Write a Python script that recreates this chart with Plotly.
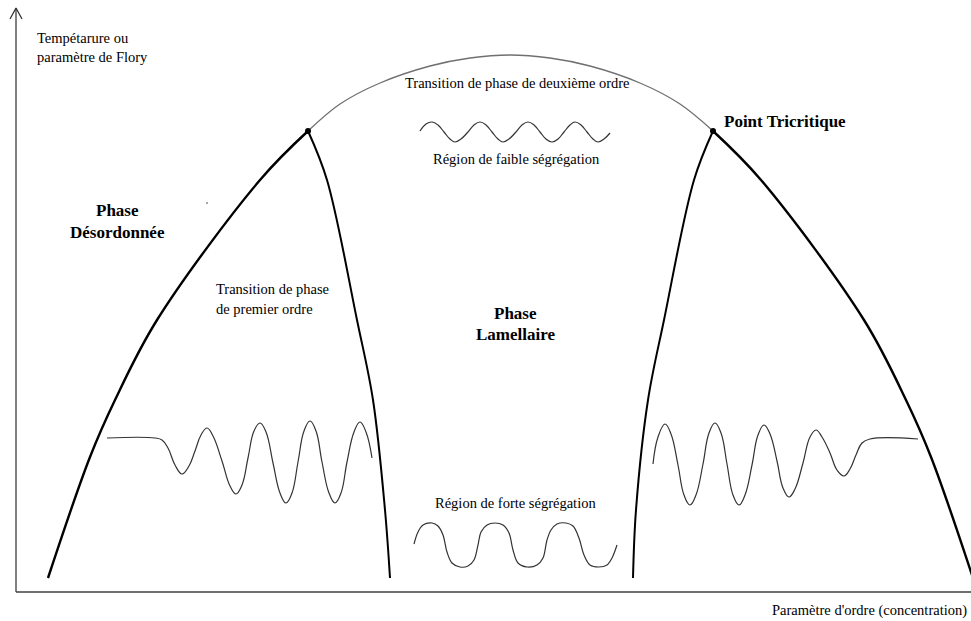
import plotly.graph_objects as go

# ---- data (diagram units: x to the right, y downward) ----
axis_y_x = [16, 16]
axis_y_y = [592, 8]
arrow_x = [10, 16, 22]
arrow_y = [19, 8, 19]
axis_x_x = [16, 971]
axis_x_y = [592, 592]

left_outer_x = [48, 90, 115, 157, 260, 308]
left_outer_y = [578, 457, 400, 320, 180, 131]
left_inner_x = [308, 327, 357, 373, 385, 390]
left_inner_y = [131, 180, 320, 400, 510, 578]
right_inner_x = [713, 694, 664, 648, 636, 633]
right_inner_y = [131, 180, 320, 400, 510, 578]
right_outer_x = [713, 761, 864, 906, 931, 973]
right_outer_y = [131, 180, 320, 400, 457, 578]

arc_x = [308, 340, 380, 430, 470, 510, 550, 590, 640, 680, 713]
arc_y = [131, 104, 83, 66, 58, 55, 58, 66, 83, 104, 131]

tricritical_x = [308, 713]
tricritical_y = [131, 131]

left_wave_x = [107, 155, 162, 168, 175, 182, 189, 195, 201, 207, 213, 222, 230,
               236, 242, 248, 254, 260, 266, 273, 280, 286, 292, 298, 304, 310,
               316, 322, 329, 335, 341, 347, 354, 360, 366, 372]
left_wave_y = [438, 438, 440, 448, 465, 474, 466, 451, 435, 428, 436, 461, 486,
               494, 485, 458, 431, 423, 432, 463, 493, 503, 493, 462, 431, 421,
               431, 462, 493, 503, 493, 462, 432, 422, 432, 458]

right_wave_x = [653, 658, 665, 671, 678, 684, 690, 696, 703, 709, 715, 721, 727,
                733, 739, 745, 752, 758, 764, 770, 777, 783, 789, 795, 803, 810,
                816, 822, 830, 837, 844, 850, 856, 862, 870, 918]
right_wave_y = [464, 437, 424, 434, 465, 495, 505, 495, 464, 433, 423, 433, 464,
                495, 505, 495, 465, 435, 425, 434, 461, 488, 497, 489, 463, 437,
                430, 437, 453, 470, 476, 469, 455, 443, 439, 439]

weak_wave_x = [420, 426, 432, 438, 444, 450, 455, 461, 468, 474, 480, 486, 492,
               498, 503, 509, 516, 522, 528, 534, 540, 546, 552, 558, 564, 570,
               575, 581, 587, 593, 598, 604, 610]
weak_wave_y = [131, 124, 122, 125, 132, 139, 142, 139, 132, 125, 122, 125, 132,
               139, 142, 139, 132, 125, 122, 125, 132, 139, 142, 139, 132, 125,
               122, 125, 132, 139, 142, 139, 133]

strong_wave_x = [414, 418, 423, 432, 438, 443, 447, 452, 460, 468, 474, 478, 481,
                 487, 495, 503, 509, 513, 518, 527, 537, 543, 547, 551, 557, 566,
                 573, 579, 584, 590, 599, 607, 612, 617]
strong_wave_y = [544, 532, 525, 523, 526, 535, 552, 563, 567, 566, 560, 545, 532,
                 525, 523, 525, 533, 550, 563, 567, 565, 558, 540, 530, 524, 523,
                 526, 538, 555, 565, 567, 565, 558, 545]

stray_x = [207]
stray_y = [203]

labels = [
    # text, x, y, xanchor, size, bold
    ("Tempétarure ou", 35, 38, "left", 14.5, False),
    ("paramètre de Flory", 35, 57, "left", 14.5, False),
    ("Transition de phase de deuxième ordre", 517, 83, "center", 14.5, False),
    ("Région de faible ségrégation", 516, 159, "center", 14.5, False),
    ("Point Tricritique", 722, 121, "left", 17, True),
    ("Phase", 117, 210, "center", 17, True),
    ("Désordonnée", 117, 232, "center", 17, True),
    ("Transition de phase", 214, 289, "left", 14.5, False),
    ("de premier ordre", 214, 309, "left", 14.5, False),
    ("Phase", 515, 313, "center", 17, True),
    ("Lamellaire", 515, 334, "center", 17, True),
    ("Région de forte ségrégation", 515, 503, "center", 14.5, False),
    ("Paramètre d'ordre (concentration)", 969, 610, "right", 14.5, False),
]

FONT = "Liberation Serif"

fig = go.Figure()


def line(xs, ys, color, width, shape="linear", smoothing=1.0):
    fig.add_trace(go.Scatter(x=xs, y=ys, mode="lines",
                             line=dict(color=color, width=width, shape=shape,
                                       smoothing=smoothing),
                             hoverinfo="skip"))


line(axis_y_x, axis_y_y, "#808080", 2)
line(arrow_x, arrow_y, "#333333", 1.3)
line(axis_x_x, axis_x_y, "#404040", 1.5)

line(left_outer_x, left_outer_y, "#000000", 2.4, "spline")
line(left_inner_x, left_inner_y, "#000000", 2.0, "spline")
line(right_inner_x, right_inner_y, "#000000", 2.0, "spline")
line(right_outer_x, right_outer_y, "#000000", 2.4, "spline")
line(arc_x, arc_y, "#707070", 1.3, "spline")

line(left_wave_x, left_wave_y, "#333333", 1.2, "spline", 1.2)
line(right_wave_x, right_wave_y, "#333333", 1.2, "spline", 1.2)
line(weak_wave_x, weak_wave_y, "#333333", 1.2, "spline", 1.2)
line(strong_wave_x, strong_wave_y, "#333333", 1.2, "spline", 1.0)

fig.add_trace(go.Scatter(x=tricritical_x, y=tricritical_y, mode="markers",
                         marker=dict(color="#000000", size=6), hoverinfo="skip"))
fig.add_trace(go.Scatter(x=stray_x, y=stray_y, mode="markers",
                         marker=dict(color="#888888", size=2), hoverinfo="skip"))

for text, x, y, xa, size, bold in labels:
    fig.add_annotation(x=x, y=y, xref="x", yref="y", text=f"<b>{text}</b>" if bold else text,
                       showarrow=False, xanchor=xa, yanchor="middle",
                       font=dict(family=FONT, size=size, color="#000000"))

fig.update_layout(
    width=971, height=621,
    margin=dict(l=0, r=0, t=0, b=0),
    paper_bgcolor="white", plot_bgcolor="white",
    showlegend=False, hovermode=False,
    xaxis=dict(range=[0, 971], visible=False, fixedrange=True),
    yaxis=dict(range=[621, 0], visible=False, fixedrange=True),
)

fig.write_html("out.html", config={"displayModeBar": False},
               post_script="document.body.style.margin='0';document.body.style.overflow='hidden';")
